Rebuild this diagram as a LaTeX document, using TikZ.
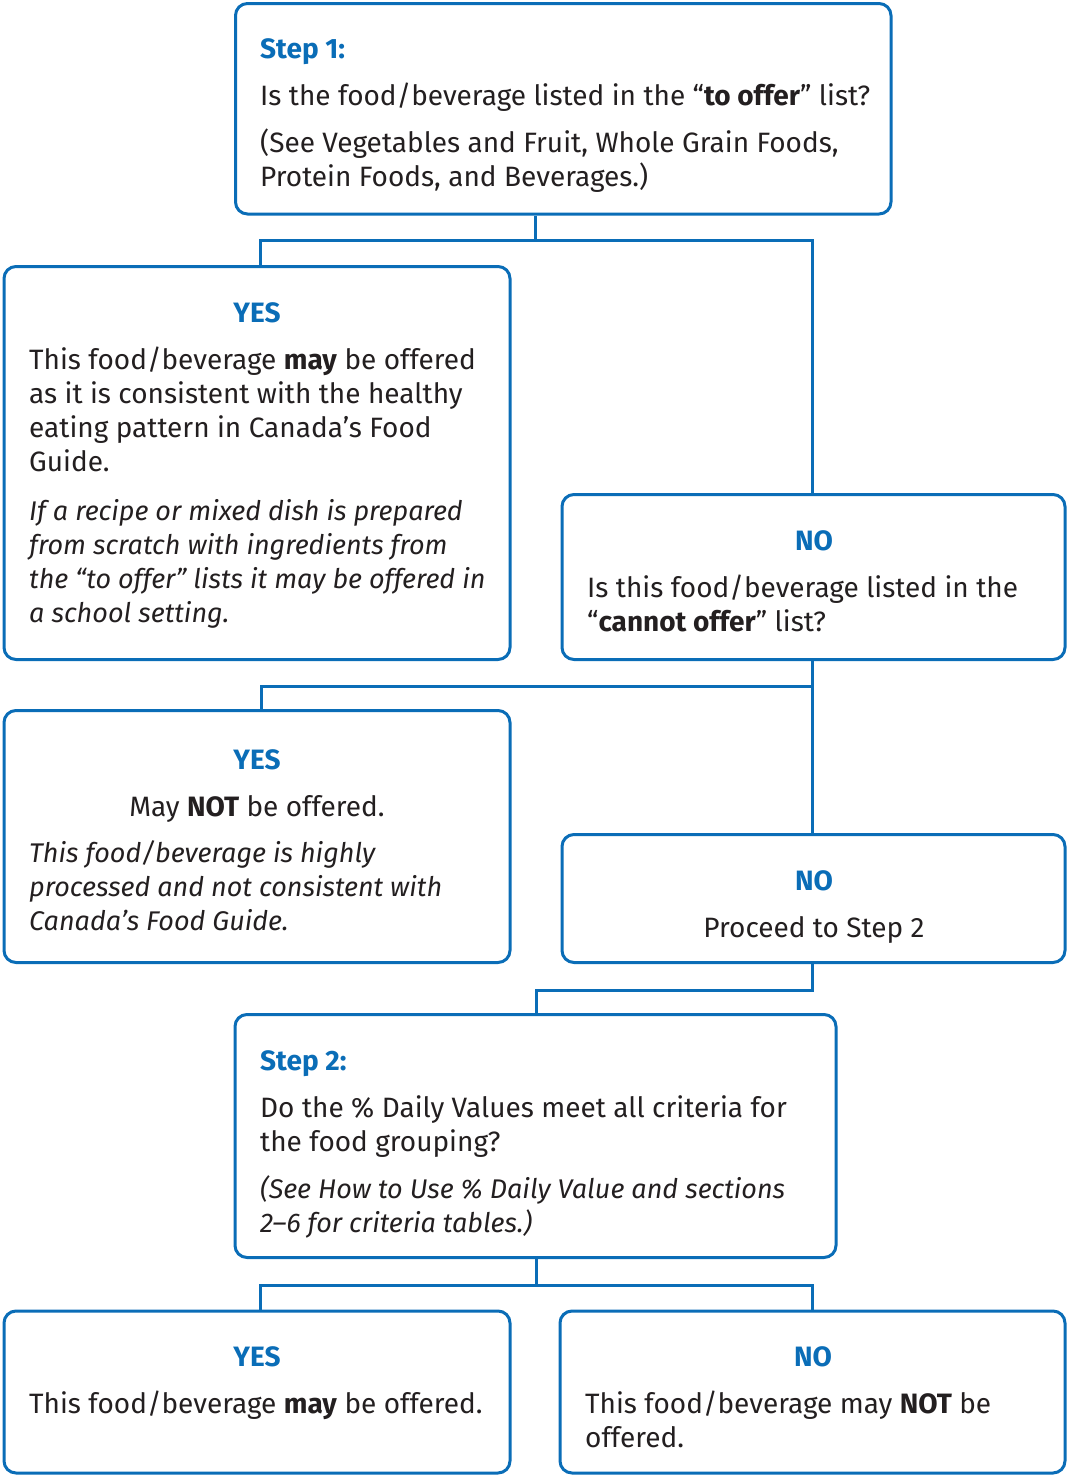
\documentclass[tikz,border=0pt]{standalone}
\usepackage{fontspec}
\setmainfont{Fira Sans}
\definecolor{hcblue}{HTML}{0A6DB7}
\definecolor{txtc}{HTML}{231F20}
\newcommand\bodyfont{\fontsize{28}{34}\selectfont}
\newcommand\itfont{\fontsize{27}{34}\selectfont\itshape}
\newcommand\fst{\rule{0pt}{26pt}}
\tikzset{
  box/.style={draw=hcblue, line width=3pt, rounded corners=12pt, fill=white, inner sep=0pt},
  link/.style={draw=hcblue, line width=3pt},
  head/.style={inner sep=0pt, anchor=base, text=hcblue, font=\bodyfont\bfseries},
  headl/.style={inner sep=0pt, anchor=base west, text=hcblue, font=\bodyfont\bfseries},
  txt/.style={inner sep=0pt, anchor=north west, align=left, text=txtc, font=\bodyfont},
  itxt/.style={txt, font=\itfont},
  ctxt/.style={inner sep=0pt, anchor=base, text=txtc, font=\bodyfont},
}
\begin{document}
\begin{tikzpicture}[x=1pt,y=-1pt]
\useasboundingbox (0,0) rectangle (1067,1476);
% boxes
\node[box, minimum width=655.5pt, minimum height=210.5pt] (s1) at (563.25,108.75) {};
\node[box, minimum width=506pt, minimum height=393pt] (y1) at (257,463) {};
\node[box, minimum width=503pt, minimum height=165pt] (n1) at (813.5,577) {};
\node[box, minimum width=506pt, minimum height=252pt] (y2) at (257,836.5) {};
\node[box, minimum width=503pt, minimum height=128pt] (n2) at (813.5,898.5) {};
\node[box, minimum width=601pt, minimum height=243pt] (s2) at (535.5,1136) {};
\node[box, minimum width=506pt, minimum height=162pt] (y3) at (257,1392) {};
\node[box, minimum width=505pt, minimum height=162pt] (n3) at (812.5,1392) {};
% connectors
\coordinate (j1) at (535,240);
\coordinate (j2) at (812,686);
\coordinate (j3) at (812,990);
\coordinate (j4) at (536,1285);
\coordinate (y1t) at (260,266.5);
\coordinate (n1t) at (812,494.5);
\coordinate (y2t) at (261,711.5);
\coordinate (s2t) at (536,1015.5);
\coordinate (y3t) at (260,1311.5);
\coordinate (n3t) at (812,1311.5);
\draw[link] (j1 |- s1.south) -- (j1);
\draw[link] (j1) -| (y1t);
\draw[link] (j1) -| (n1t);
\draw[link] (j2 |- n1.south) -- (j2 |- n2.north);
\draw[link] (j2) -| (y2t);
\draw[link] (j3 |- n2.south) -- (j3) -| (s2t);
\draw[link] (j4 |- s2.south) -- (j4);
\draw[link] (j4) -| (y3t);
\draw[link] (j4) -| (n3t);
% step 1
\node[headl] (s1h) at (260,58) {Step 1:};
\node[txt] (s1a) at (260,105-26) {\fst Is the food/beverage listed in the “\textbf{to offer}” list?};
\node[txt] (s1b) at (260,152-26) {\fst (See Vegetables and Fruit, Whole Grain Foods,\\Protein Foods, and Beverages.)};
% yes 1
\node[head] (y1h) at (257,322) {YES};
\node[txt] (y1a) at (29,369-26) {\fst This food/beverage \textbf{may} be offered\\as it is consistent with the healthy\\eating pattern in Canada’s Food\\Guide.};
\node[itxt] (y1b) at (29,520-26) {\fst If a recipe or mixed dish is prepared\\from scratch with ingredients from\\the “to offer” lists it may be offered in\\a school setting.};
% no 1
\node[head] (n1h) at (814,550) {NO};
\node[txt] (n1a) at (587,597-26) {\fst Is this food/beverage listed in the\\“\textbf{cannot offer}” list?};
% yes 2
\node[head] (y2h) at (257,769) {YES};
\node[ctxt] (y2a) at (257,816) {May \textbf{NOT} be offered.};
\node[itxt] (y2b) at (29,862-26) {\fst This food/beverage is highly\\processed and not consistent with\\Canada’s Food Guide.};
% no 2
\node[head] (n2h) at (814,890) {NO};
\node[ctxt] (n2a) at (814,937) {Proceed to Step 2};
% step 2
\node[headl] (s2h) at (260,1070) {Step 2:};
\node[txt] (s2a) at (260,1117-26) {\fst Do the \% Daily Values meet all criteria for\\the food grouping?};
\node[itxt] (s2b) at (260,1198-26) {\fst (See How to Use \% Daily Value and sections\\2–6 for criteria tables.)};
% yes 3
\node[head] (y3h) at (257,1366) {YES};
\node[txt] (y3a) at (29,1413-26) {\fst This food/beverage \textbf{may} be offered.};
% no 3
\node[head] (n3h) at (813,1366) {NO};
\node[txt] (n3a) at (585,1413-26) {\fst This food/beverage may \textbf{NOT} be\\offered.};
\end{tikzpicture}
\end{document}
